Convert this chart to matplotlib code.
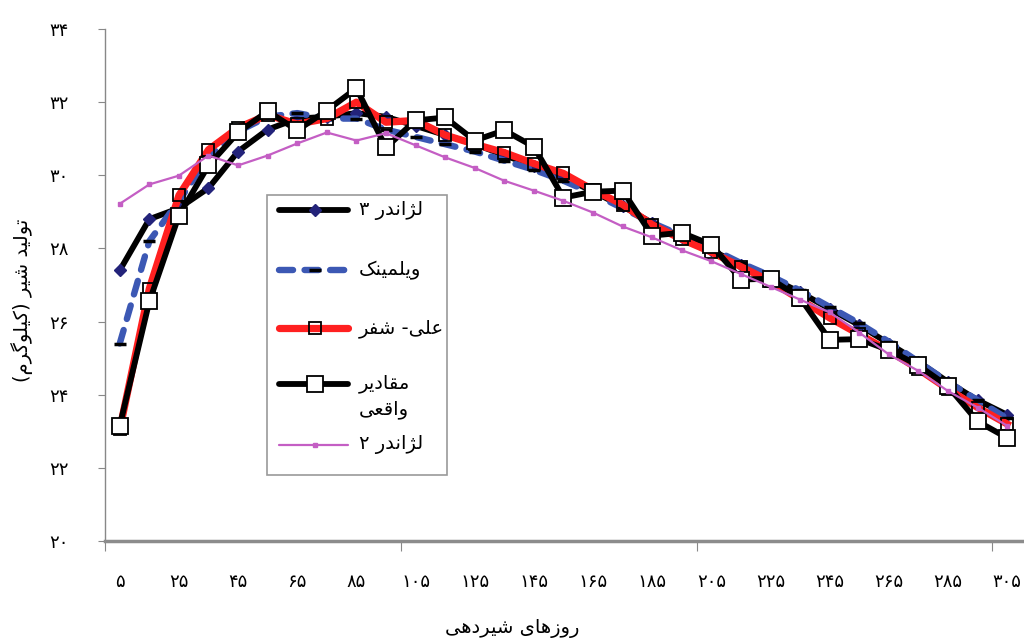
import matplotlib
matplotlib.use('Agg')
import matplotlib.pyplot as plt
from matplotlib.lines import Line2D
from matplotlib.patches import Rectangle

plt.rcParams['font.family'] = ['DejaVu Sans']

# ── داده‌ها (خوانده شده از تصویر) ─────────────────────
days = [5, 15, 25, 35, 45, 55, 65, 75, 85, 95, 105, 115, 125, 135, 145, 155,
        165, 175, 185, 195, 205, 215, 225, 235, 245, 255, 265, 275, 285, 295, 305]

legendre3 = [27.4, 28.8, 29.1, 29.65, 30.65, 31.25, 31.55, 31.6, 31.7, 31.6, 31.35,
             31.1, 30.85, 30.55, 30.25, 29.95, 29.55, 29.15, 28.7, 28.3, 27.95, 27.55,
             27.2, 26.8, 26.35, 25.9, 25.4, 24.9, 24.35, 23.85, 23.45]
wilmink = [25.4, 28.2, 29.3, 30.5, 31.2, 31.6, 31.7, 31.55, 31.55, 31.25, 31.05,
           30.85, 30.65, 30.4, 30.15, 29.85, 29.5, 29.1, 28.7, 28.35, 28.0, 27.6,
           27.25, 26.85, 26.4, 25.95, 25.45, 24.9, 24.35, 23.85, 23.35]
ali_schaeffer = [23.05, 26.9, 29.45, 30.7, 31.3, 31.65, 31.4, 31.55, 32.0, 31.45, 31.5,
                 31.1, 30.85, 30.62, 30.32, 30.05, 29.6, 29.2, 28.65, 28.25, 27.9, 27.5,
                 27.1, 26.6, 26.1, 25.65, 25.2, 24.7, 24.15, 23.65, 23.2]
actual = [23.15, 26.55, 28.9, 30.27, 31.17, 31.75, 31.23, 31.77, 32.38, 30.76, 31.5,
          31.58, 30.95, 31.23, 30.78, 29.39, 29.55, 29.58, 28.35, 28.43, 28.1, 27.15,
          27.17, 26.65, 25.5, 25.52, 25.22, 24.8, 24.23, 23.27, 22.82]
legendre2 = [29.22, 29.75, 29.99, 30.54, 30.27, 30.54, 30.87, 31.17, 30.95, 31.15, 30.82,
             30.49, 30.2, 29.85, 29.58, 29.3, 28.98, 28.6, 28.3, 27.95, 27.65, 27.3,
             26.95, 26.6, 26.25, 25.7, 25.1, 24.65, 24.1, 23.65, 23.15]

x_labels = [5, 25, 45, 65, 85, 105, 125, 145, 165, 185, 205, 225, 245, 265, 285, 305]
y_ticks = [20, 22, 24, 26, 28, 30, 32, 34]

names = ['لژاندر ۳', 'ویلمینک', 'علی- شفر', 'مقادیر\nواقعی', 'لژاندر ۲']
xlabel = 'روزهای شیردهی'
ylabel = 'تولید شیر (کیلوگرم)'

# ── شکل‌دهی حروف فارسی (matplotlib خودش این کار را نمی‌کند) ──
# (منفرد، پایانی، آغازی، میانی)
FORMS = {
    'ا': ('\uFE8D', '\uFE8E', None, None),
    'د': ('\uFEA9', '\uFEAA', None, None),
    'ر': ('\uFEAD', '\uFEAE', None, None),
    'ز': ('\uFEAF', '\uFEB0', None, None),
    'ژ': ('\uFB8A', '\uFB8B', None, None),
    'و': ('\uFEED', '\uFEEE', None, None),
    'ت': ('\uFE95', '\uFE96', '\uFE97', '\uFE98'),
    'ش': ('\uFEB5', '\uFEB6', '\uFEB7', '\uFEB8'),
    'ع': ('\uFEC9', '\uFECA', '\uFECB', '\uFECC'),
    'ف': ('\uFED1', '\uFED2', '\uFED3', '\uFED4'),
    'ق': ('\uFED5', '\uFED6', '\uFED7', '\uFED8'),
    'ل': ('\uFEDD', '\uFEDE', '\uFEDF', '\uFEE0'),
    'م': ('\uFEE1', '\uFEE2', '\uFEE3', '\uFEE4'),
    'ن': ('\uFEE5', '\uFEE6', '\uFEE7', '\uFEE8'),
    'ه': ('\uFEE9', '\uFEEA', '\uFEEB', '\uFEEC'),
    'ی': ('\uFBFC', '\uFBFD', '\uFBFE', '\uFBFF'),
    'ک': ('\uFB8E', '\uFB8F', '\uFB90', '\uFB91'),
    'گ': ('\uFB92', '\uFB93', '\uFB94', '\uFB95'),
}
FA_DIGITS = '۰۱۲۳۴۵۶۷۸۹'


def fa_num(n):
    return ''.join(FA_DIGITS[int(c)] for c in str(n))


def fa(s):
    lines = []
    for line in s.split('\n'):
        out = []
        for i, ch in enumerate(line):
            if ch not in FORMS:
                out.append(ch)
                continue
            prev = line[i-1] if i > 0 else ''
            nxt = line[i+1] if i + 1 < len(line) else ''
            jp = prev in FORMS and FORMS[prev][2] is not None
            jn = FORMS[ch][2] is not None and nxt in FORMS
            iso, fin, ini, med = FORMS[ch]
            out.append(med if jp and jn else fin if jp else ini if jn else iso)
        out = out[::-1]
        out = [{'(': ')', ')': '('}.get(c, c) for c in out]
        lines.append(''.join(out))
    return '\n'.join(lines)


# ── رسم ─────────────────────────────────────────────
fig = plt.figure(figsize=(10.24, 6.4), dpi=100)
ax = fig.add_axes([0.1025, 0.1547, 0.8955, 0.8])

styles = [
    dict(color='black', lw=4.2, marker='D', ms=6, mfc='#23237a', mec='#23237a', zorder=3),
    dict(color='#3c58b4', lw=4.6, ls=(0, (2.2, 1.8)), dash_capstyle='round',
         marker='_', ms=9, mec='black', mew=2.5, zorder=4),
    dict(color='#ff2020', lw=5.2, marker='s', ms=8, mfc='none', mec='black', mew=1.3, zorder=5),
    dict(color='black', lw=4.2, marker='s', ms=11, mfc='white', mec='black', mew=1.3, zorder=6),
    dict(color='#c45ec4', lw=1.6, marker='s', ms=3, mfc='#c45ec4', mec='#c45ec4', zorder=7),
]
series = [legendre3, wilmink, ali_schaeffer, actual, legendre2]

for vals, st in zip(series, styles):
    ax.plot(days, vals, solid_joinstyle='round', **st)

ax.set_xlim(0, 310)
ax.set_ylim(20, 34)

ax.set_xticks([0, 100, 200, 300])
ax.set_xticklabels([])
ax.set_xticks(x_labels, minor=True)
ax.set_xticklabels([fa_num(v) for v in x_labels], minor=True, fontsize=13)
ax.tick_params(axis='x', which='major', length=7, direction='out', color='#888888')
ax.tick_params(axis='x', which='minor', length=0, pad=23)

ax.set_yticks(y_ticks)
ax.set_yticklabels([fa_num(v) for v in y_ticks], fontsize=13)
ax.tick_params(axis='y', length=5, direction='out', color='#888888', pad=21)

for s in ['top', 'right']:
    ax.spines[s].set_visible(False)
ax.spines['left'].set_color('#888888')
ax.spines['left'].set_linewidth(1.0)
ax.spines['bottom'].set_color('#8c8c8c')
ax.spines['bottom'].set_linewidth(2.5)

fig.text(0.5, 1 - 628/640, fa(xlabel), ha='center', va='center', fontsize=14)
fig.text(22/1024, 1 - 300/640, fa(ylabel), ha='center', va='center',
         rotation=90, fontsize=14)

# ── راهنما ──────────────────────────────────────────
def fx(px):
    return px / 1024


def fy(py):
    return 1 - py / 640


fig.add_artist(Rectangle((fx(267), fy(475)), (447-267)/1024, (475-195)/640,
                         transform=fig.transFigure, fill=False,
                         ec='#9a9a9a', lw=1.2, zorder=10))

entry_y = [210, 270, 328, 384, 445]
for name, st, py in zip(names, styles, entry_y):
    st2 = {k: v for k, v in st.items() if k != 'zorder'}
    fig.add_artist(Line2D([fx(279), fx(315), fx(348)], [fy(py)]*3,
                          transform=fig.transFigure, markevery=[1],
                          solid_capstyle='round', zorder=11, **st2))
    va = 'top' if '\n' in name else 'center'
    ty = py - 10 if '\n' in name else py
    fig.text(fx(359), fy(ty), fa(name), ha='left', va=va, fontsize=14,
             linespacing=1.4, zorder=12)

fig.savefig('out.png', dpi=100)
